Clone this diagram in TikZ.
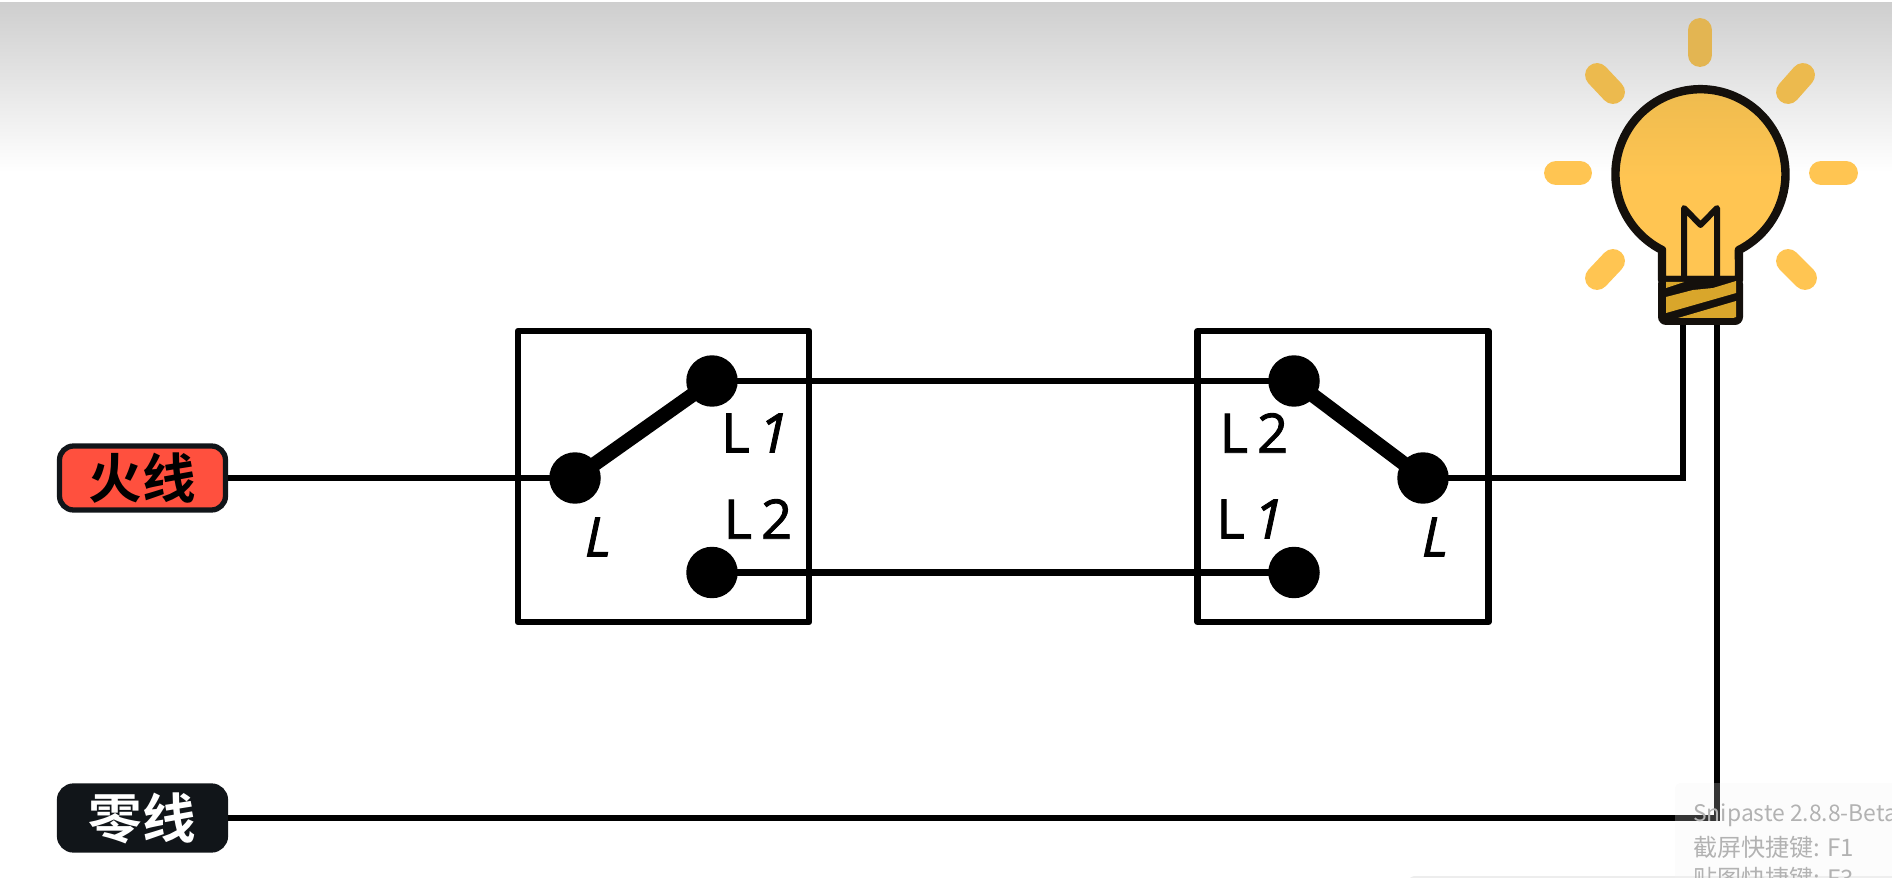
\documentclass[tikz,border=0pt]{standalone}
\usepackage{fontspec}
\usepackage{xcolor}
\usetikzlibrary{positioning}
\setmainfont{Open Sans}
\newfontfamily\pinfont[FakeBold=1.6,ItalicFeatures={FakeBold=1.6}]{Open Sans}
\newfontfamily\cjkbold[BoldFont=Noto Sans CJK SC Bold]{Noto Sans CJK SC}
\newfontfamily\tipfont{Noto Sans CJK SC}
\definecolor{wireblack}{RGB}{0,0,0}
\definecolor{huored}{RGB}{255,80,62}
\definecolor{lingblack}{RGB}{17,21,25}
\definecolor{bulbyellow}{RGB}{255,197,82}
\definecolor{bulbtop}{RGB}{236,186,78}
\definecolor{basegold}{RGB}{217,166,43}
\definecolor{bulbline}{RGB}{20,16,12}
\definecolor{tipgray}{RGB}{178,178,178}
\tikzstyle{wire} = [line width=3.7pt,color=wireblack]
\tikzstyle{lever} = [line width=8.2pt,color=wireblack]
\tikzstyle{switchbox} = [draw,line width=3.7pt,line join=round,minimum width=5.82cm,minimum height=5.82cm,inner sep=0pt]
\tikzstyle{terminal} = [circle,fill=wireblack,minimum size=1.03cm,inner sep=0pt]
\tikzstyle{pinlabel} = [inner sep=0pt,font=\fontsize{31}{31}\pinfont]
\tikzstyle{linelabel} = [draw=lingblack,line width=3pt,rounded corners=0.28cm,minimum width=3.32cm,minimum height=1.28cm,inner sep=0pt,font=\fontsize{30.5}{30.5}\cjkbold\bfseries]
\tikzstyle{ray} = [line width=13.6pt,line cap=round]
\tikzstyle{tiptext} = [anchor=west,inner sep=0pt,text=tipgray,font=\fontsize{13.7}{13.7}\tipfont]
\begin{document}
\begin{tikzpicture}[x=0.02cm,y=-0.02cm]
\useasboundingbox (0,0) rectangle (1892,878);
% Grey band along the top
\shade[top color=black!19,bottom color=white] (0,3) rectangle (1892,172);

% Live and neutral labels
\node[linelabel,fill=huored,text=black] (huo) at (142.5,478) {火线};
\node[linelabel,fill=lingblack,text=white] (ling) at (142.5,818) {零线};

% Left switch
\node[switchbox] (swa) at (663.5,476.5) {};
\node[terminal] (swaL) at (575,478) {};
\node[terminal] (swaOne) at (712,381) {};
\node[terminal] (swaTwo) at (712,572.5) {};
\node[pinlabel] (swaLlabel) at (598,537) {\textit{L}};
\node[pinlabel] (swaOnelabel) at (755,433) {L\,\textit{1}};
\node[pinlabel] (swaTwolabel) at (758,519) {L\,2};
\draw[lever] (swaL.center) -- (swaOne.center);

% Right switch
\node[switchbox] (swb) at (1343,476.5) {};
\node[terminal] (swbL) at (1423,478) {};
\node[terminal] (swbTwo) at (1294,381) {};
\node[terminal] (swbOne) at (1294,572.5) {};
\node[pinlabel] (swbLlabel) at (1435,537) {\textit{L}};
\node[pinlabel] (swbTwolabel) at (1254,433) {L\,2};
\node[pinlabel] (swbOnelabel) at (1250,519) {L\,\textit{1}};
\draw[lever] (swbL.center) -- (swbTwo.center);

% Wires
\coordinate (pinA) at (1683,320);
\coordinate (pinB) at (1717,320);
\draw[wire] (huo.east) -- (swaL.center);
\draw[wire] (swaOne.center) -- (swbTwo.center);
\draw[wire] (swaTwo.center) -- (swbOne.center);
\draw[wire] (swbL.center) -| (pinA);
\draw[wire] (ling.east) -| (pinB);

% Rays
\draw[ray,color=bulbtop!92!gray] (1700,30) -- (1700,55);
\draw[ray,color=bulbtop] (1597,75) -- (1613,92);
\draw[ray,color=bulbtop] (1803,75) -- (1788,92);
\draw[ray,color=bulbyellow] (1556,173) -- (1580,173);
\draw[ray,color=bulbyellow] (1821,173) -- (1846,173);
\draw[ray,color=bulbyellow] (1613,261) -- (1597,278);
\draw[ray,color=bulbyellow] (1788,261) -- (1805,278);

% Bulb
\draw[color=bulbline,line width=4.8pt,line join=round,top color=bulbtop,bottom color=bulbyellow,middle color=bulbyellow]
  (1662,250) arc[start angle=116.9,end angle=423.1,radius=85] -- (1739,280) -- (1662,280) -- cycle;
\draw[color=bulbline,line width=3.4pt,line join=round] (1684,282) -- (1684,208) -- (1700.5,225) -- (1717,208) -- (1717,282);

% Screw base
\fill[bulbline,rounded corners=0.16cm] (1658,276) rectangle (1743,325);
\fill[basegold] (1666,282) -- (1684,282) -- (1666,288) -- cycle;
\fill[basegold] (1666,297) -- (1693,290) -- (1713,288) -- (1736,281) -- (1736,293) -- (1666,313) -- cycle;
\fill[basegold] (1678,318) -- (1736,301) -- (1736,317) -- (1733,318) -- cycle;

% Screenshot tool notice
\fill[gray!14,rounded corners=0.1cm] (1409,876) rectangle (1900,890);
\fill[gray!10,opacity=0.22,rounded corners=0.1cm] (1675,783) rectangle (1900,890);
\node[tiptext,font=\fontsize{13}{13}\tipfont] (tipone) at (1693,815) {Snipaste 2.8.8-Beta};
\node[tiptext] (tiptwo) at (1693,847) {截屏快捷键: F1};
\node[tiptext] (tipthree) at (1693,878) {贴图快捷键: F3};
\end{tikzpicture}
\end{document}
